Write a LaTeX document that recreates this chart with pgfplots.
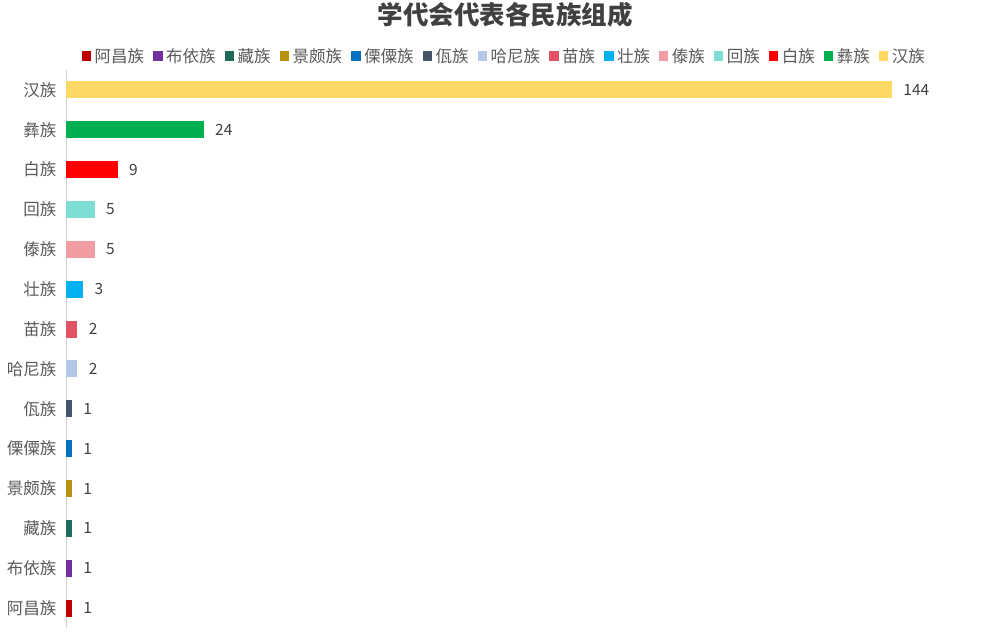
\documentclass[border=0pt]{standalone}
\usepackage{fontspec}
\setmainfont{Noto Sans CJK SC}
\usepackage{pgfplots}
\pgfplotsset{compat=1.18}
\definecolor{cAchang}{HTML}{C00000}
\definecolor{cBuyi}{HTML}{7030A0}
\definecolor{cZang}{HTML}{1E6B5A}
\definecolor{cJingpo}{HTML}{B8920F}
\definecolor{cLisu}{HTML}{0070C0}
\definecolor{cWa}{HTML}{44546A}
\definecolor{cHani}{HTML}{B4C7E7}
\definecolor{cMiao}{HTML}{E15264}
\definecolor{cZhuang}{HTML}{00B0F0}
\definecolor{cDai}{HTML}{F19CA3}
\definecolor{cHui}{HTML}{7FDED4}
\definecolor{cBai}{HTML}{FF0000}
\definecolor{cYi}{HTML}{00B050}
\definecolor{cHan}{HTML}{FFD966}
\definecolor{labelgray}{HTML}{595959}
\definecolor{numgray}{HTML}{404040}
\begin{document}
\begin{tikzpicture}
\path[use as bounding box] (0,0) rectangle (1002bp,642bp);
\begin{axis}[
  at={(66bp,14bp)}, anchor=south west,
  scale only axis, width=889bp, height=558bp,
  xmin=0, xmax=155, ymin=-0.5, ymax=13.5,
  xbar, bar width=17bp, bar shift=0pt,
  /pgf/number format/assume math mode=true,
  axis lines*=left,
  x axis line style={draw=none},
  y axis line style={draw=black!18, line width=0.8bp},
  xtick=\empty,
  ytick={0,...,13},
  yticklabels={阿昌族,布依族,藏族,景颇族,傈僳族,佤族,哈尼族,苗族,壮族,傣族,回族,白族,彝族,汉族},
  major tick length=0pt,
  yticklabel style={font=\fontsize{16.5bp}{19bp}\selectfont, text=labelgray, xshift=-6bp},
  nodes near coords, point meta=x,
  every node near coord/.append style={font=\fontsize{15.5bp}{18bp}\selectfont, text=numgray, xshift=8bp},
  legend columns=-1,
  legend style={at={(0.493,1)}, anchor=south, yshift=2bp, draw=none, fill=none,
    font=\fontsize{16.5bp}{19bp}\selectfont, text=labelgray,
    /tikz/every odd column/.append style={column sep=1.5bp},
    /tikz/every even column/.append style={column sep=7bp}},
  legend image code/.code={\fill[#1] (0bp,-4.5bp) rectangle (9.5bp,5bp);},
]
\addplot[draw=none, fill=cAchang] coordinates {(1,0)};
\addlegendentry{阿昌族}
\addplot[draw=none, fill=cBuyi] coordinates {(1,1)};
\addlegendentry{布依族}
\addplot[draw=none, fill=cZang] coordinates {(1,2)};
\addlegendentry{藏族}
\addplot[draw=none, fill=cJingpo] coordinates {(1,3)};
\addlegendentry{景颇族}
\addplot[draw=none, fill=cLisu] coordinates {(1,4)};
\addlegendentry{傈僳族}
\addplot[draw=none, fill=cWa] coordinates {(1,5)};
\addlegendentry{佤族}
\addplot[draw=none, fill=cHani] coordinates {(2,6)};
\addlegendentry{哈尼族}
\addplot[draw=none, fill=cMiao] coordinates {(2,7)};
\addlegendentry{苗族}
\addplot[draw=none, fill=cZhuang] coordinates {(3,8)};
\addlegendentry{壮族}
\addplot[draw=none, fill=cDai] coordinates {(5,9)};
\addlegendentry{傣族}
\addplot[draw=none, fill=cHui] coordinates {(5,10)};
\addlegendentry{回族}
\addplot[draw=none, fill=cBai] coordinates {(9,11)};
\addlegendentry{白族}
\addplot[draw=none, fill=cYi] coordinates {(24,12)};
\addlegendentry{彝族}
\addplot[draw=none, fill=cHan] coordinates {(144,13)};
\addlegendentry{汉族}
\end{axis}
\node[font=\fontsize{25.5bp}{30bp}\selectfont\bfseries, text=numgray] at (505bp,627bp) {学代会代表各民族组成};
\end{tikzpicture}
\end{document}
